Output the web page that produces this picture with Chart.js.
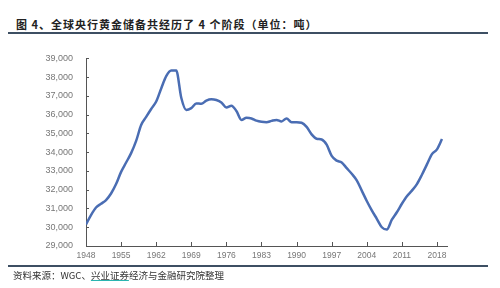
<!DOCTYPE html>
<html>
<head>
<meta charset="utf-8">
<script src="https://cdn.jsdelivr.net/npm/chart.js@4"></script>
<style>
    body { margin: 0; width: 500px; height: 288px; background: #fff; position: relative; overflow: hidden; }
    #title { position: absolute; left: 16px; top: 16px; font: bold 11px "Noto Sans CJK SC", sans-serif; letter-spacing: 1px; color: #222; white-space: nowrap; }
    .rule { position: absolute; left: 8px; width: 480px; height: 2px; background: #3d4f63; }
    #source { position: absolute; left: 13px; top: 268px; font: 9.5px "Noto Sans CJK SC", sans-serif; color: #333; white-space: nowrap; }
    #source u { text-decoration-color: #2bb5b0; }
    #wrap { position: absolute; left: 0; top: 40px; width: 500px; height: 230px; }
</style>
</head>
<body>
<div id="title">图 4、全球央行黄金储备共经历了 4 个阶段（单位：吨）</div>
<div class="rule" style="top:32px"></div>
<div id="wrap"><canvas id="chart"></canvas></div>
<div class="rule" style="top:265px"></div>
<div id="source">资料来源：WGC、<u>兴业证券</u>经济与金融研究院整理</div>
<script>
const years = [
    1948, 1949, 1950, 1951, 1952, 1953, 1954, 1955, 1956, 1957, 1958, 1959,
    1960, 1961, 1962, 1963, 1964, 1965, 1966, 1967, 1968, 1969, 1970, 1971,
    1972, 1973, 1974, 1975, 1976, 1977, 1978, 1979, 1980, 1981, 1982, 1983,
    1984, 1985, 1986, 1987, 1988, 1989, 1990, 1991, 1992, 1993, 1994, 1995,
    1996, 1997, 1998, 1999, 2000, 2001, 2002, 2003, 2004, 2005, 2006, 2007,
    2008, 2009, 2010, 2011, 2012, 2013, 2014, 2015, 2016, 2017, 2018, 2019,
];
const goldReserves = [
    30150, 30650, 31050, 31250, 31450, 31800, 32300, 32950, 33450, 33950, 34600, 35450,
    35880, 36300, 36700, 37400, 38050, 38350, 38350, 36900, 36250, 36350, 36600, 36580,
    36750, 36820, 36780, 36650, 36380, 36480, 36200, 35720, 35830, 35800, 35680, 35620,
    35600, 35670, 35720, 35640, 35800, 35600, 35600, 35570, 35350, 34950, 34720, 34680,
    34400, 33800, 33550, 33450, 33150, 32850, 32500, 31950, 31400, 30900, 30450, 30000,
    29880, 30400, 30800, 31250, 31650, 31950, 32300, 32800, 33350, 33900, 34150, 34700,
];
const yearTicks = [1948, 1955, 1962, 1969, 1976, 1983, 1990, 1997, 2004, 2011, 2018];

const axisColor = '#555';

// short tick marks drawn inward from the axis lines
const innerTicks = {
    id: 'innerTicks',
    afterDraw(chart) {
        const { ctx, scales: { x, y }, chartArea } = chart;
        ctx.save();
        ctx.strokeStyle = axisColor;
        ctx.lineWidth = 1;
        ctx.beginPath();
        x.ticks.forEach((t) => {
            const px = Math.round(x.getPixelForValue(t.value)) + 0.5;
            ctx.moveTo(px, chartArea.bottom);
            ctx.lineTo(px, chartArea.bottom - 4);
        });
        y.ticks.forEach((t) => {
            const py = Math.round(y.getPixelForValue(t.value)) + 0.5;
            ctx.moveTo(chartArea.left, py);
            ctx.lineTo(chartArea.left + 3, py);
        });
        ctx.stroke();
        ctx.restore();
    }
};

new Chart('chart', {
    type: 'line',
    data: {
        datasets: [{
            data: years.map((yr, i) => ({ x: yr, y: goldReserves[i] })),
            borderColor: '#4a6db3',
            borderWidth: 2.5,
            pointRadius: 0,
            cubicInterpolationMode: 'monotone',
            fill: false,
        }],
    },
    options: {
        responsive: true,
        maintainAspectRatio: false,
        animation: false,
        layout: { padding: { top: 6, right: 53, left: 0, bottom: 0 } },
        plugins: { legend: { display: false }, tooltip: { enabled: false } },
        scales: {
            x: {
                type: 'linear',
                min: 1948,
                max: 2020,
                afterBuildTicks: (scale) => {
                    scale.ticks = yearTicks.map((v) => ({ value: v }));
                },
                afterFit: (scale) => { scale.height = 24; },
                grid: { display: false, drawTicks: false },
                border: { color: axisColor, width: 1 },
                ticks: {
                    padding: 5,
                    maxRotation: 0,
                    autoSkip: false,
                    color: '#777',
                    font: { family: 'Liberation Sans', size: 8.5 },
                    callback: (v) => String(v),
                },
            },
            y: {
                min: 29000,
                max: 39000,
                afterFit: (scale) => { scale.width = 86; },
                grid: { display: false, drawTicks: false },
                border: { color: axisColor, width: 1 },
                ticks: {
                    stepSize: 1000,
                    padding: 13,
                    color: '#777',
                    font: { family: 'Liberation Sans', size: 9 },
                    callback: (v) => v.toLocaleString('en-US'),
                },
            },
        },
    },
    plugins: [innerTicks],
});
</script>
</body>
</html>
